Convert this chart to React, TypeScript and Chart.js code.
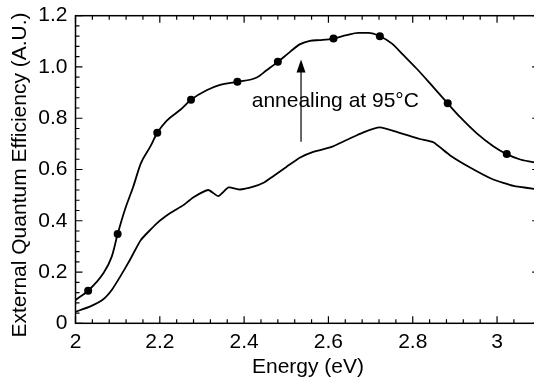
import React, { useEffect, useRef } from "react";
import { Chart, registerables } from "chart.js";

Chart.register(...registerables);

// Upper curve (after annealing at 95°C)
const upperEnergy = [2.0, 2.03, 2.066, 2.086, 2.1, 2.117, 2.137, 2.155, 2.177, 2.194, 2.216, 2.248, 2.274, 2.311, 2.343, 2.384, 2.43, 2.454, 2.48, 2.509, 2.533, 2.556, 2.58, 2.612, 2.643, 2.671, 2.695, 2.722, 2.75, 2.778, 2.809, 2.841, 2.883, 2.912, 2.952, 2.991, 3.023, 3.055, 3.1];
const upperEQE = [0.091, 0.127, 0.195, 0.26, 0.348, 0.442, 0.533, 0.624, 0.688, 0.743, 0.79, 0.832, 0.872, 0.909, 0.93, 0.942, 0.959, 0.988, 1.02, 1.059, 1.089, 1.102, 1.105, 1.111, 1.124, 1.133, 1.133, 1.12, 1.092, 1.046, 0.994, 0.936, 0.858, 0.805, 0.741, 0.691, 0.66, 0.639, 0.625];

// Markers on the upper curve
const markerEnergy = [2.03, 2.1, 2.194, 2.274, 2.384, 2.48, 2.612, 2.722, 2.883, 3.023];
const markerEQE = [0.127, 0.348, 0.743, 0.872, 0.942, 1.02, 1.111, 1.12, 0.858, 0.66];

// Lower curve (before annealing)
const lowerEnergy = [2.0, 2.034, 2.066, 2.086, 2.106, 2.129, 2.155, 2.193, 2.224, 2.256, 2.279, 2.315, 2.339, 2.363, 2.39, 2.422, 2.446, 2.469, 2.501, 2.533, 2.564, 2.604, 2.643, 2.683, 2.722, 2.762, 2.817, 2.849, 2.888, 2.936, 2.991, 3.039, 3.1];
const lowerEQE = [0.045, 0.065, 0.094, 0.13, 0.182, 0.247, 0.325, 0.39, 0.429, 0.461, 0.491, 0.52, 0.496, 0.53, 0.522, 0.533, 0.548, 0.574, 0.611, 0.647, 0.669, 0.686, 0.715, 0.745, 0.764, 0.747, 0.719, 0.706, 0.656, 0.608, 0.561, 0.536, 0.522];

// Axis ranges / ticks
const xMin = 2.0;
const xMax = 3.1;
const xStep = 0.04;
const yMin = 0;
const yMax = 1.2;
const yStep = 0.04;

// Annotation
const annotationText = "annealing at 95°C";
const annotationX = 2.418;
const annotationY = 0.842;
const arrowX = 2.535;
const arrowFrom = 0.708;
const arrowTo = 1.029;

const FONT = "'Liberation Sans', Arial, Helvetica, sans-serif";
const FS = 21;

const isMajor = (v: number) => Math.abs(v * 5 - Math.round(v * 5)) < 1e-6;

const framePlugin = {
  id: "frameTicks",
  afterDraw(chart: any) {
    const { ctx, chartArea, scales } = chart;
    const { left, right, top, bottom } = chartArea;
    const xs = scales.x;
    const ys = scales.y;
    ctx.save();
    ctx.strokeStyle = "#000";
    ctx.lineWidth = 1.5;
    ctx.strokeRect(left, top, right - left, bottom - top);
    ctx.lineWidth = 1.2;
    ctx.beginPath();
    xs.ticks.forEach((t: any) => {
      const px = xs.getPixelForValue(t.value);
      const len = isMajor(t.value) ? 7 : 4;
      ctx.moveTo(px, bottom);
      ctx.lineTo(px, bottom - len);
      ctx.moveTo(px, top);
      ctx.lineTo(px, top + len);
    });
    ys.ticks.forEach((t: any) => {
      const py = ys.getPixelForValue(t.value);
      const len = isMajor(t.value) ? 7 : 4;
      ctx.moveTo(left, py);
      ctx.lineTo(left + len, py);
      ctx.moveTo(right, py);
      ctx.lineTo(right - len, py);
    });
    ctx.stroke();

    // arrow
    const ax = xs.getPixelForValue(arrowX);
    const ay0 = ys.getPixelForValue(arrowFrom);
    const ay1 = ys.getPixelForValue(arrowTo);
    ctx.lineWidth = 1.2;
    ctx.beginPath();
    ctx.moveTo(ax, ay0);
    ctx.lineTo(ax, ay1 + 10);
    ctx.stroke();
    ctx.beginPath();
    ctx.moveTo(ax, ay1);
    ctx.lineTo(ax - 4.5, ay1 + 13);
    ctx.lineTo(ax + 4.5, ay1 + 13);
    ctx.closePath();
    ctx.fillStyle = "#000";
    ctx.fill();

    // annotation text
    ctx.font = `${FS}px ${FONT}`;
    ctx.textAlign = "left";
    ctx.textBaseline = "alphabetic";
    ctx.fillText(annotationText, xs.getPixelForValue(annotationX), ys.getPixelForValue(annotationY));

    // axis titles
    ctx.textAlign = "center";
    ctx.fillText("Energy (eV)", 308, 373);
    ctx.save();
    ctx.translate(26, 175);
    ctx.rotate(-Math.PI / 2);
    ctx.fillText("External Quantum Efficiency (A.U.)", 0, 0);
    ctx.restore();
    ctx.restore();
  },
};

export default function App() {
  const ref = useRef<HTMLCanvasElement>(null);
  useEffect(() => {
    if (!ref.current) return;
    const chart = new Chart(ref.current, {
      type: "line",
      data: {
        datasets: [
          {
            data: upperEnergy.map((x, i) => ({ x, y: upperEQE[i] })),
            borderColor: "#000",
            borderWidth: 1.8,
            pointRadius: 0,
            cubicInterpolationMode: "monotone",
            fill: false,
          },
          {
            data: lowerEnergy.map((x, i) => ({ x, y: lowerEQE[i] })),
            borderColor: "#000",
            borderWidth: 1.8,
            pointRadius: 0,
            tension: 0.15,
            fill: false,
          },
          {
            data: markerEnergy.map((x, i) => ({ x, y: markerEQE[i] })),
            showLine: false,
            pointRadius: 4,
            pointBackgroundColor: "#000",
            pointBorderColor: "#000",
            pointBorderWidth: 0,
          },
        ],
      },
      options: {
        animation: false,
        responsive: false,
        layout: { padding: { top: 15.7, right: 6.8, left: 0, bottom: 0 } },
        plugins: { legend: { display: false }, tooltip: { enabled: false } },
        scales: {
          x: {
            type: "linear",
            min: xMin,
            max: xMax,
            grid: { display: false, drawTicks: false },
            border: { display: false },
            ticks: {
              stepSize: xStep,
              autoSkip: false,
              maxRotation: 0,
              padding: 6,
              color: "#000",
              font: { family: FONT, size: FS },
              callback: (v: any) => {
                const n = Number(v);
                if (!isMajor(n)) return "";
                return Math.abs(n - Math.round(n)) < 1e-6 ? String(Math.round(n)) : n.toFixed(1);
              },
            },
            afterFit: (s: any) => {
              s.height = 57.7;
              s.paddingLeft = 0;
              s.paddingRight = 0;
            },
          },
          y: {
            type: "linear",
            min: yMin,
            max: yMax,
            grid: { display: false, drawTicks: false },
            border: { display: false },
            ticks: {
              stepSize: yStep,
              autoSkip: false,
              padding: 8,
              color: "#000",
              font: { family: FONT, size: FS },
              callback: (v: any) => {
                const n = Number(v);
                if (!isMajor(n)) return "";
                return Math.abs(n) < 1e-6 ? "0" : n.toFixed(1);
              },
            },
            afterFit: (s: any) => {
              s.width = 75.5;
              s.paddingTop = 0;
              s.paddingBottom = 0;
            },
          },
        },
      },
      plugins: [framePlugin],
    });
    return () => chart.destroy();
  }, []);
  return (
    <div style={{ position: "fixed", left: 0, top: 0, width: 534, height: 381, overflow: "hidden", background: "#fff" }}>
      <canvas ref={ref} width={546} height={381} style={{ display: "block" }} />
    </div>
  );
}
